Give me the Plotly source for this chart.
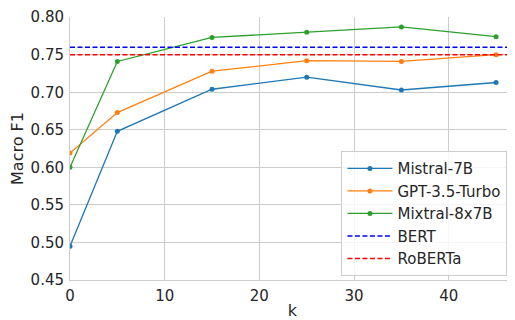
import plotly.graph_objects as go

k = [0, 5, 15, 25, 35, 45]
mistral = [0.495, 0.648, 0.704, 0.720, 0.703, 0.713]
gpt35 = [0.619, 0.673, 0.728, 0.742, 0.741, 0.750]
mixtral = [0.600, 0.741, 0.773, 0.780, 0.787, 0.774]
bert = 0.760
roberta = 0.750
x_range = [0, 47]
y_range = [0.45, 0.8002]
y_ticks = [0.45, 0.50, 0.55, 0.60, 0.65, 0.70, 0.75, 0.80]

FONT = "DejaVu Sans"
TXT = "#262626"
GRID = "#cccccc"

fig = go.Figure()
for name, vals, col in [("Mistral-7B", mistral, "#1f77b4"),
                        ("GPT-3.5-Turbo", gpt35, "#ff7f0e"),
                        ("Mixtral-8x7B", mixtral, "#2ca02c")]:
    fig.add_trace(go.Scatter(x=k, y=vals, name=name, mode="lines+markers",
                             line=dict(color=col, width=1.3),
                             marker=dict(color=col, size=5)))
for name, val, col in [("BERT", bert, "blue"), ("RoBERTa", roberta, "red")]:
    fig.add_trace(go.Scatter(x=x_range, y=[val, val], name=name, mode="lines",
                             line=dict(color=col, width=1.5, dash="5px,2.5px")))

# page body has an 8px margin, so the figure is sized to fit the 515x320 window
fig.update_layout(
    width=507, height=312,
    margin=dict(l=62, r=0, t=9, b=40),
    paper_bgcolor="white", plot_bgcolor="white",
    font=dict(family=FONT, size=15, color=TXT),
    legend=dict(x=0.61, y=0.49, xanchor="left", yanchor="top",
                bgcolor="rgba(255,255,255,0.8)", bordercolor=GRID, borderwidth=1,
                font=dict(size=15, color=TXT), tracegroupgap=0, itemwidth=45),
)
fig.update_xaxes(range=x_range, tickvals=[0, 10, 20, 30, 40], automargin=False,
                 showgrid=True, gridcolor=GRID, gridwidth=1,
                 showline=True, linecolor=GRID, linewidth=1, zeroline=False,
                 ticks="", ticklabelstandoff=2, ticklabeloverflow="allow",
                 title=dict(text="k", font=dict(size=16), standoff=2))
fig.update_yaxes(range=y_range, tickvals=y_ticks, tickformat=".2f", automargin=False,
                 showgrid=True, gridcolor=GRID, gridwidth=1,
                 showline=True, linecolor=GRID, linewidth=1, zeroline=False,
                 ticks="", ticklabelstandoff=2, ticklabeloverflow="allow",
                 title=dict(text="Macro F1", font=dict(size=16), standoff=6))

fig.write_html("out.html")
